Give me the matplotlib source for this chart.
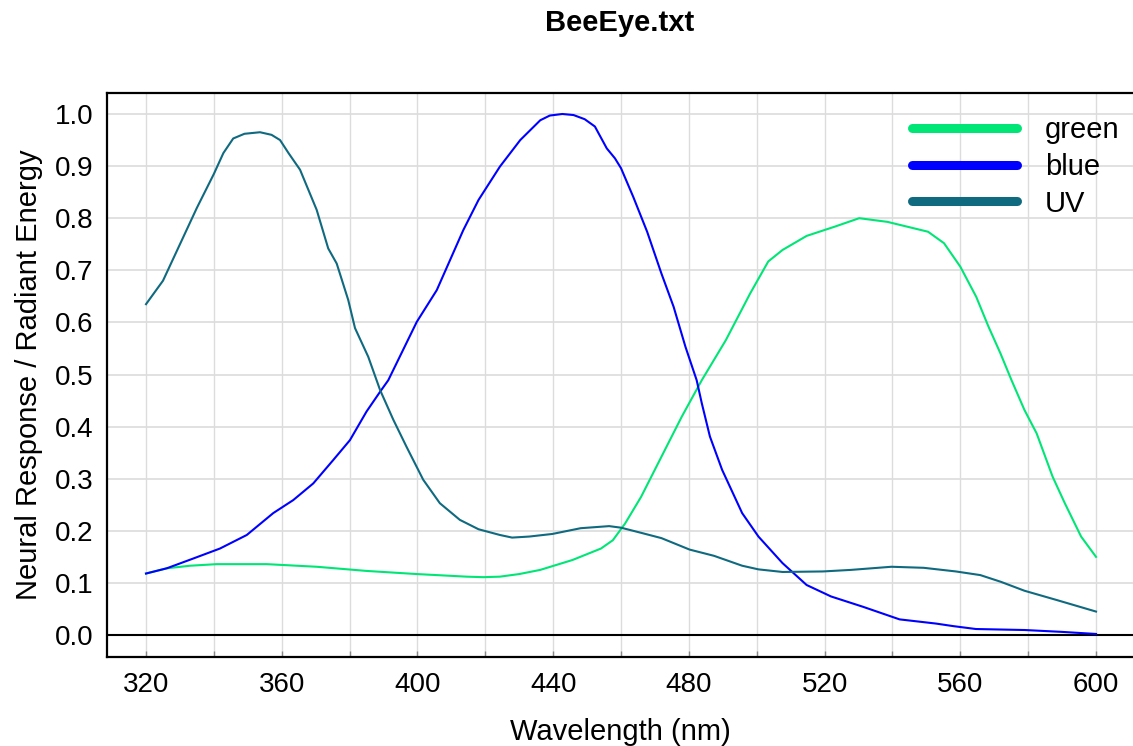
import matplotlib
matplotlib.use("Agg")
import matplotlib.pyplot as plt
from matplotlib.ticker import MultipleLocator, FormatStrFormatter

plt.rcParams['font.family'] = ['Liberation Sans', 'DejaVu Sans']

# ---- data ----
uv_nm = [320, 325, 330, 335, 340, 342.8, 345.7, 349, 353.6, 357, 359.5, 362, 365.4, 370.3,
         373.7, 376.2, 379.6, 381.6, 385.5, 389, 392.9, 396.8, 401.7, 406.6, 412.5, 418,
         424.3, 427.9, 433, 439.8, 448.1, 456.5, 460, 466, 471.9, 480.2, 487.4, 495.7,
         500.5, 507.6, 519.5, 527.8, 539.7, 549.2, 558.7, 565.9, 572, 578.9, 588.5, 600]
uv_val = [0.635, 0.68, 0.75, 0.82, 0.885, 0.925, 0.953, 0.962, 0.965, 0.960, 0.950, 0.925,
          0.893, 0.816, 0.742, 0.713, 0.643, 0.589, 0.534, 0.470, 0.413, 0.361, 0.298,
          0.253, 0.221, 0.203, 0.192, 0.187, 0.189, 0.194, 0.205, 0.209, 0.206, 0.196,
          0.186, 0.164, 0.152, 0.133, 0.126, 0.121, 0.122, 0.125, 0.131, 0.129, 0.122,
          0.115, 0.102, 0.085, 0.067, 0.045]

blue_nm = [320, 326.1, 334, 341.8, 349.7, 357.5, 363.4, 369.3, 375.2, 380.1, 385, 389,
           391.4, 399.8, 405.7, 413.5, 418, 424.3, 430.3, 436.2, 439, 442.7, 446, 449.3,
           452.3, 455.8, 458.2, 460, 463.6, 467.7, 471.9, 475.5, 479, 482.3, 483.8, 486.2,
           489.8, 495.7, 500.5, 507.6, 514.7, 521.9, 531.4, 542.1, 552.8, 558, 564.6,
           578.9, 590, 600]
blue_val = [0.118, 0.128, 0.147, 0.166, 0.192, 0.234, 0.259, 0.291, 0.336, 0.374, 0.429,
            0.467, 0.489, 0.601, 0.662, 0.777, 0.835, 0.899, 0.950, 0.988, 0.997, 1.0,
            0.998, 0.990, 0.976, 0.934, 0.915, 0.896, 0.841, 0.774, 0.694, 0.630, 0.553,
            0.489, 0.445, 0.381, 0.317, 0.234, 0.189, 0.138, 0.096, 0.074, 0.054, 0.030,
            0.022, 0.017, 0.0115, 0.0096, 0.006, 0.002]

green_nm = [320, 326.1, 333, 340.8, 355.6, 370.3, 385, 399.8, 414.5, 419.4, 424.3, 430,
            436.2, 445.7, 454.1, 457.6, 461.2, 465.9, 471.9, 477.9, 483.8, 490.9, 498.1,
            503.4, 507.6, 514.7, 523.1, 530.2, 538.5, 550.5, 555.2, 560, 564.7, 568.3,
            571.8, 575.1, 578.9, 582.5, 587.2, 590.8, 595.6, 600]
green_val = [0.118, 0.128, 0.133, 0.136, 0.136, 0.131, 0.123, 0.117, 0.112, 0.111, 0.112,
             0.117, 0.125, 0.144, 0.166, 0.182, 0.214, 0.265, 0.342, 0.419, 0.489, 0.566,
             0.656, 0.717, 0.739, 0.766, 0.784, 0.800, 0.793, 0.774, 0.752, 0.707, 0.649,
             0.592, 0.541, 0.489, 0.432, 0.387, 0.304, 0.253, 0.189, 0.150]

series_names = ['green', 'blue', 'UV']
series_colors = ['#00e676', '#0000ff', '#0f6a80']

title = 'BeeEye.txt'
xlabel = 'Wavelength (nm)'
ylabel = 'Neural Response / Radiant Energy'

# ---- figure ----
W, H = 1133, 746
fig = plt.figure(figsize=(W / 100, H / 100), dpi=100)
ax = fig.add_axes([107 / W, 1 - 657 / H, (W - 107) / W, (657 - 93) / H])

ax.set_xlim(308.5, 610.9)
ax.set_ylim(-0.0422, 1.0403)

ax.xaxis.set_major_locator(MultipleLocator(40))
ax.xaxis.set_minor_locator(MultipleLocator(20))
ax.yaxis.set_major_locator(MultipleLocator(0.1))
ax.yaxis.set_major_formatter(FormatStrFormatter('%.1f'))

ax.set_axisbelow(True)
ax.grid(True, which='both', axis='x', color='#dcdcdc', lw=1.0)
ax.grid(True, which='major', axis='y', color='#dcdcdc', lw=1.2)
ax.axhline(0, color='black', lw=1.5, zorder=2.5)

data = [(green_nm, green_val), (blue_nm, blue_val), (uv_nm, uv_val)]
for (xs, ys), name, c in zip(data, series_names, series_colors):
    ax.plot(xs, ys, color=c, lw=1.5, label=name, zorder=3)

for s in ['left', 'top', 'bottom']:
    ax.spines[s].set_linewidth(1.6)
    ax.spines[s].set_color('black')
ax.spines['right'].set_visible(False)

ax.tick_params(axis='x', which='both', direction='in', length=4, width=1, colors='#888888',
               labelcolor='black', labelsize=20, pad=11)
ax.tick_params(axis='y', which='both', direction='in', length=0, labelsize=20, pad=10)

ax.set_xlabel(xlabel, fontsize=21, labelpad=14)
ax.set_ylabel(ylabel, fontsize=21)
ax.yaxis.set_label_coords(-0.062, 0.5)

fig.text((107 + W) / 2 / W, 1 - 23 / H, title, fontsize=21, fontweight='bold',
         ha='center', va='center')

leg = ax.legend(loc='upper left', bbox_to_anchor=(0.7846, 0.959), frameon=False,
                fontsize=21, handlelength=3.6, handletextpad=0.95, labelspacing=0.3,
                borderpad=0, borderaxespad=0)
for line in leg.get_lines():
    line.set_linewidth(6.5)
    line.set_solid_capstyle('round')

fig.savefig('out.png', dpi=100)
